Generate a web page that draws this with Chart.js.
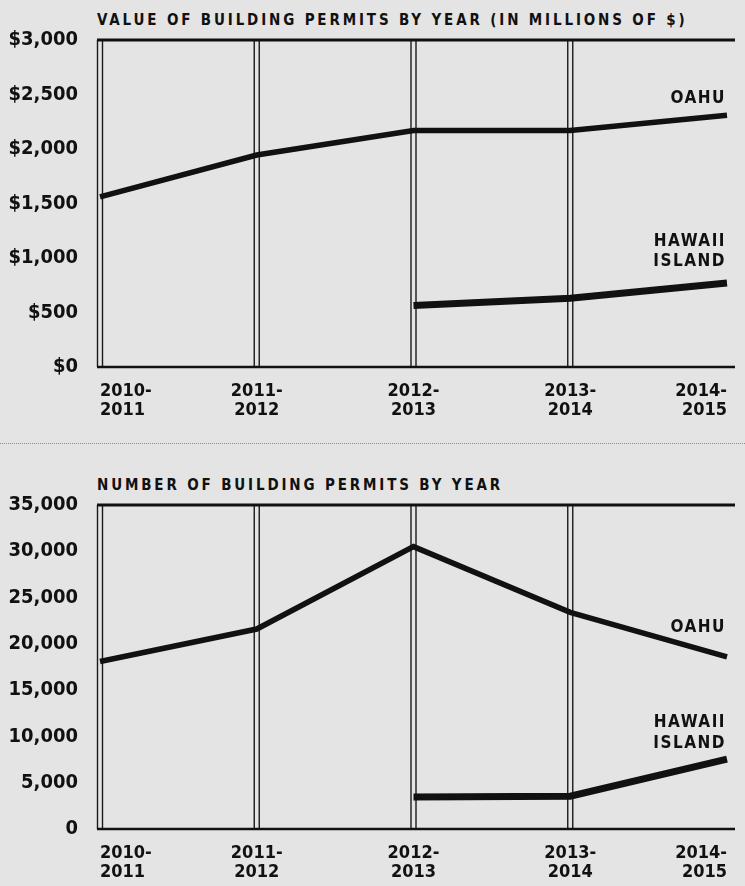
<!DOCTYPE html>
<html>
<head>
<meta charset="utf-8">
<script src="https://cdn.jsdelivr.net/npm/chart.js@4.4.1/dist/chart.umd.min.js"></script>
<style>
  body { margin: 0; background: #e4e4e4; width: 745px; height: 886px; position: relative; overflow: hidden; }
  .title {
    position: absolute; left: 97px;
    font: bold 15px 'DejaVu Sans Condensed', 'DejaVu Sans', sans-serif;
    letter-spacing: 2.85px; color: #111; white-space: nowrap;
  }
  canvas { position: absolute; left: 0; }
  .fold { position: absolute; left: 0; width: 745px; top: 443px; border-top: 1px dotted #8a8a8a; }
</style>
</head>
<body>
<div class="title" style="top:11px">VALUE OF BUILDING PERMITS BY YEAR (IN MILLIONS OF $)</div>
<canvas id="valueChart" width="745" height="430" style="top:0"></canvas>
<div class="fold"></div>
<div class="title" style="top:476px">NUMBER OF BUILDING PERMITS BY YEAR</div>
<canvas id="countChart" width="745" height="436" style="top:450px"></canvas>
<script>
// data
const categories = [
  ['2010-', '2011'],
  ['2011-', '2012'],
  ['2012-', '2013'],
  ['2013-', '2014'],
  ['2014-', '2015']
];
const valueOahu = [1560, 1945, 2170, 2170, 2310];
const valueHawaii = [null, null, 565, 630, 770];
const countOahu = [18100, 21600, 30500, 23400, 18600];
const countHawaii = [null, null, 3450, 3550, 7550];
const valueTicks = ['$0', '$500', '$1,000', '$1,500', '$2,000', '$2,500', '$3,000'];
const countTicks = ['0', '5,000', '10,000', '15,000', '20,000', '25,000', '30,000', '35,000'];

const FONT = "'DejaVu Sans Condensed', 'DejaVu Sans', sans-serif";
const INK = '#111';

// double vertical rules + top/bottom bars
const framePlugin = {
  id: 'frame',
  beforeDatasetsDraw(chart) {
    const { ctx, chartArea: a, scales: { x } } = chart;
    ctx.save();
    ctx.strokeStyle = '#1a1a1a';
    ctx.lineWidth = 1.4;
    for (let i = 0; i < x.ticks.length - 1; i++) {
      const px = x.getPixelForTick(i);
      [-2.5, 2.5].forEach(d => {
        ctx.beginPath();
        ctx.moveTo(px + d, a.top);
        ctx.lineTo(px + d, a.bottom);
        ctx.stroke();
      });
    }
    ctx.strokeStyle = INK;
    ctx.lineWidth = 3;
    ctx.beginPath();
    ctx.moveTo(a.left - 3, a.top);
    ctx.lineTo(a.right + 8, a.top);
    ctx.stroke();
    ctx.lineWidth = 2.5;
    ctx.beginPath();
    ctx.moveTo(a.left - 3, a.bottom);
    ctx.lineTo(a.right + 8, a.bottom);
    ctx.stroke();
    ctx.restore();
  }
};

// series names next to the last point
const tagPlugin = {
  id: 'tags',
  afterDatasetsDraw(chart) {
    const { ctx } = chart;
    ctx.save();
    ctx.fillStyle = INK;
    ctx.font = 'bold 17px ' + FONT;
    ctx.letterSpacing = '1.5px';
    ctx.textAlign = 'right';
    ctx.textBaseline = 'middle';
    chart.data.datasets.forEach((ds, i) => {
      const pts = chart.getDatasetMeta(i).data;
      const last = pts[pts.length - 1];
      ds.tagLines.forEach((t, j) => {
        ctx.fillText(t, last.x - 1, last.y + ds.tagOffsets[j]);
      });
    });
    ctx.restore();
  }
};

function makeChart(id, oahu, hawaii, max, step, tickText, opts) {
  return new Chart(document.getElementById(id), {
    type: 'line',
    data: {
      labels: categories,
      datasets: [{
        label: 'Oahu',
        data: oahu,
        borderColor: INK,
        borderWidth: 5.5,
        pointRadius: 0,
        tension: 0,
        tagLines: ['OAHU'],
        tagOffsets: opts.oahuTag
      }, {
        label: 'Hawaii Island',
        data: hawaii,
        borderColor: INK,
        borderWidth: 7,
        pointRadius: 0,
        tension: 0,
        tagLines: ['HAWAII', 'ISLAND'],
        tagOffsets: opts.hawaiiTag
      }]
    },
    options: {
      responsive: false,
      animation: false,
      layout: { padding: { top: opts.top, right: 18, left: 0, bottom: 0 } },
      plugins: { legend: { display: false }, tooltip: { enabled: false } },
      scales: {
        x: {
          grid: { display: false, drawTicks: false },
          border: { display: false },
          ticks: {
            color: INK,
            align: 'inner',
            maxRotation: 0,
            padding: 14,
            font: { family: FONT, weight: 'bold', size: 18, lineHeight: 1.1 }
          },
          afterFit(scale) { scale.height = opts.xHeight; }
        },
        y: {
          min: 0,
          max: max,
          grid: { display: false, drawTicks: false },
          border: { display: false },
          ticks: {
            stepSize: step,
            color: INK,
            padding: 22,
            font: { family: FONT, weight: 'bold', size: 20 },
            callback: (v) => tickText[Math.round(v / step)]
          },
          afterFit(scale) { scale.width = 100; }
        }
      }
    },
    plugins: [framePlugin, tagPlugin]
  });
}

makeChart('valueChart', valueOahu, valueHawaii, 3000, 500, valueTicks,
  { top: 40, xHeight: 63, oahuTag: [-17], hawaiiTag: [-41, -21] });
makeChart('countChart', countOahu, countHawaii, 35000, 5000, countTicks,
  { top: 55, xHeight: 57, oahuTag: [-29], hawaiiTag: [-37, -16] });
</script>
</body>
</html>
